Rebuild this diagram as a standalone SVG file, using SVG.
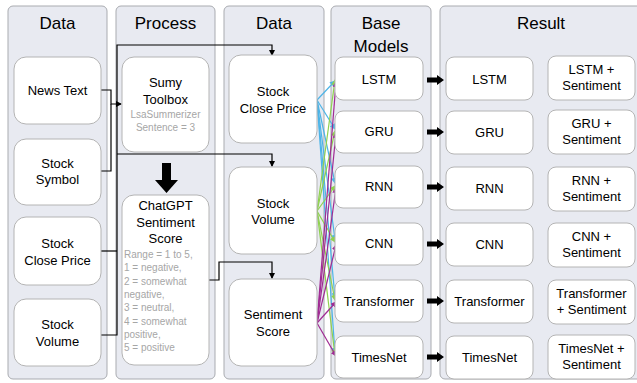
<svg xmlns="http://www.w3.org/2000/svg" width="637" height="383" viewBox="0 0 637 383">
<style>
.panel{fill:#e8eaf1;stroke:#a9abb0;stroke-width:1}
.node{fill:#ffffff;stroke:#b4b4b4;stroke-width:1}
.t{font-family:"Liberation Sans",Arial,sans-serif;font-size:13px;fill:#000;text-anchor:middle}
.title{font-family:"Liberation Sans",Arial,sans-serif;font-size:17px;fill:#000;text-anchor:middle}
.g{font-family:"Liberation Sans",Arial,sans-serif;font-size:10px;fill:#a6a6a6;text-anchor:middle}
.gl{font-family:"Liberation Sans",Arial,sans-serif;font-size:10px;fill:#a6a6a6}
.k{fill:none;stroke:#000;stroke-width:1.2}
.b{fill:none;stroke:#4cb4e7;stroke-width:1.2}
.gr{fill:none;stroke:#8fd14f;stroke-width:1.2}
.p{fill:none;stroke:#a02b93;stroke-width:1.2}
</style>
<defs>
<marker id="ak" markerWidth="6" markerHeight="6" refX="5" refY="3" orient="auto" markerUnits="userSpaceOnUse"><path d="M0,0 L6,3 L0,6 Z" fill="#000"/></marker>
<marker id="ab" markerWidth="6" markerHeight="6" refX="5" refY="3" orient="auto" markerUnits="userSpaceOnUse"><path d="M0,0 L6,3 L0,6 Z" fill="#4cb4e7"/></marker>
<marker id="ag" markerWidth="6" markerHeight="6" refX="5" refY="3" orient="auto" markerUnits="userSpaceOnUse"><path d="M0,0 L6,3 L0,6 Z" fill="#8fd14f"/></marker>
<marker id="ap" markerWidth="6" markerHeight="6" refX="5" refY="3" orient="auto" markerUnits="userSpaceOnUse"><path d="M0,0 L6,3 L0,6 Z" fill="#a02b93"/></marker>
<path id="bigR" d="M427,-2.5 H437 V-5 L444,0 L437,5 V2.5 H427 Z" fill="#000"/>
</defs>

<g id="panels">
<rect class="panel" x="8" y="6" width="99" height="373" rx="5"/>
<rect class="panel" x="116" y="6" width="99" height="373" rx="5"/>
<rect class="panel" x="224" y="6" width="100" height="373" rx="5"/>
<rect class="panel" x="331" y="6" width="100" height="373" rx="5"/>
<rect class="panel" x="440" y="6" width="205" height="373" rx="5"/>
<text class="title" x="57.5" y="29">Data</text>
<text class="title" x="165.5" y="29">Process</text>
<text class="title" x="274" y="29">Data</text>
<text class="title" x="381" y="29">Base</text>
<text class="title" x="381" y="52">Models</text>
<text class="title" x="541" y="29">Result</text>
</g>

<g id="connectors">
<path class="k" d="M101,90 H111 V104 H121" marker-end="url(#ak)"/>
<path class="k" d="M101,171 H111 V104"/>
<path class="k" d="M101,251 H117"/>
<path class="k" d="M101,335 H117 V45 H272 V55" marker-end="url(#ak)"/>
<path class="k" d="M117,154 H272 V166" marker-end="url(#ak)"/>
<path class="k" d="M209,280 H219 V262 H272 V278" marker-end="url(#ak)"/>
<path d="M162,163 H171 V180 H178 L166.5,193 L155,180 H162 Z" fill="#000"/>
<use href="#bigR" transform="translate(0,80)"/>
<use href="#bigR" transform="translate(0,132)"/>
<use href="#bigR" transform="translate(0,187)"/>
<use href="#bigR" transform="translate(0,244)"/>
<use href="#bigR" transform="translate(0,301)"/>
<use href="#bigR" transform="translate(0,357)"/>
<g id="blue">
<path class="b" d="M317,100 L335,81" marker-end="url(#ab)"/>
<path class="b" d="M317,100 L335,129" marker-end="url(#ab)"/>
<path class="b" d="M317,100 L335,183" marker-end="url(#ab)"/>
<path class="b" d="M317,100 L335,240" marker-end="url(#ab)"/>
<path class="b" d="M317,100 L335,298" marker-end="url(#ab)"/>
<path class="b" d="M317,100 L335,353" marker-end="url(#ab)"/>
</g>
<g id="green">
<path class="gr" d="M317,211 L335,80" marker-end="url(#ag)"/>
<path class="gr" d="M317,211 L335,131" marker-end="url(#ag)"/>
<path class="gr" d="M317,211 L335,186" marker-end="url(#ag)"/>
<path class="gr" d="M317,211 L335,242" marker-end="url(#ag)"/>
<path class="gr" d="M317,211 L335,300" marker-end="url(#ag)"/>
<path class="gr" d="M317,211 L335,355" marker-end="url(#ag)"/>
</g>
<g id="purple">
<path class="p" d="M317,323 L336,82" marker-end="url(#ap)"/>
<path class="p" d="M317,323 L336,133" marker-end="url(#ap)"/>
<path class="p" d="M317,323 L336,188" marker-end="url(#ap)"/>
<path class="p" d="M317,323 L336,245" marker-end="url(#ap)"/>
<path class="p" d="M317,323 L336,302" marker-end="url(#ap)"/>
<path class="p" d="M317,323 L336,356" marker-end="url(#ap)"/>
</g>
</g>

<g id="n-news"><rect class="node" x="14" y="57" width="87" height="67" rx="12"/><text class="t" x="57.5" y="94.5">News Text</text></g>
<g id="n-symbol"><rect class="node" x="14" y="139" width="87" height="66" rx="12"/><text class="t" x="57.5" y="167.5">Stock</text><text class="t" x="57.5" y="183.5">Symbol</text></g>
<g id="n-close1"><rect class="node" x="14" y="217" width="87" height="68" rx="12"/><text class="t" x="57.5" y="247.5">Stock</text><text class="t" x="57.5" y="264.5">Close Price</text></g>
<g id="n-volume1"><rect class="node" x="14" y="299" width="87" height="67" rx="12"/><text class="t" x="57.5" y="328.5">Stock</text><text class="t" x="57.5" y="345.5">Volume</text></g>

<g id="n-sumy"><rect class="node" x="122" y="57" width="87" height="95" rx="12"/>
<text class="t" x="165.5" y="86.5">Sumy</text><text class="t" x="165.5" y="103.5">Toolbox</text>
<text class="g" x="165.5" y="118">LsaSummerizer</text><text class="g" x="165.5" y="131">Sentence = 3</text></g>

<g id="n-chatgpt"><rect class="node" x="122" y="195" width="87" height="170" rx="12"/>
<text class="t" x="165.5" y="209.5">ChatGPT</text><text class="t" x="165.5" y="226.5">Sentiment</text><text class="t" x="165.5" y="242.5">Score</text>
<text class="gl" x="124" y="258">Range = 1 to 5,</text>
<text class="gl" x="124" y="271.3">1 = negative,</text>
<text class="gl" x="124" y="284.6">2 = somewhat</text>
<text class="gl" x="124" y="297.9">negative,</text>
<text class="gl" x="124" y="311.2">3 = neutral,</text>
<text class="gl" x="124" y="324.5">4 = somewhat</text>
<text class="gl" x="124" y="337.8">positive,</text>
<text class="gl" x="124" y="351.1">5 = positive</text></g>

<g id="n-close2"><rect class="node" x="229" y="55" width="88" height="88" rx="12"/><text class="t" x="273" y="95.5">Stock</text><text class="t" x="273" y="112.5">Close Price</text></g>
<g id="n-volume2"><rect class="node" x="229" y="167" width="88" height="87" rx="12"/><text class="t" x="273" y="207.5">Stock</text><text class="t" x="273" y="223.5">Volume</text></g>
<g id="n-sent"><rect class="node" x="229" y="279" width="88" height="87" rx="12"/><text class="t" x="273" y="318.5">Sentiment</text><text class="t" x="273" y="335.5">Score</text></g>

<g id="m-lstm"><rect class="node" x="335" y="57" width="88" height="43" rx="8"/><text class="t" x="379" y="83.5">LSTM</text></g>
<g id="m-gru"><rect class="node" x="335" y="111" width="88" height="42" rx="8"/><text class="t" x="379" y="136">GRU</text></g>
<g id="m-rnn"><rect class="node" x="335" y="166" width="88" height="42" rx="8"/><text class="t" x="379" y="191">RNN</text></g>
<g id="m-cnn"><rect class="node" x="335" y="223" width="88" height="42" rx="8"/><text class="t" x="379" y="248">CNN</text></g>
<g id="m-trans"><rect class="node" x="335" y="280" width="88" height="42" rx="8"/><text class="t" x="379" y="305.5">Transformer</text></g>
<g id="m-times"><rect class="node" x="335" y="336" width="88" height="42" rx="8"/><text class="t" x="379" y="361.5">TimesNet</text></g>

<g id="r-lstm"><rect class="node" x="446" y="57" width="87" height="43" rx="8"/><text class="t" x="489.5" y="83.5">LSTM</text></g>
<g id="r-gru"><rect class="node" x="446" y="111" width="87" height="43" rx="8"/><text class="t" x="489.5" y="137">GRU</text></g>
<g id="r-rnn"><rect class="node" x="446" y="167" width="87" height="43" rx="8"/><text class="t" x="489.5" y="193">RNN</text></g>
<g id="r-cnn"><rect class="node" x="446" y="223" width="87" height="43" rx="8"/><text class="t" x="489.5" y="249">CNN</text></g>
<g id="r-trans"><rect class="node" x="446" y="280" width="87" height="43" rx="8"/><text class="t" x="489.5" y="306">Transformer</text></g>
<g id="r-times"><rect class="node" x="446" y="336" width="87" height="43" rx="8"/><text class="t" x="489.5" y="362">TimesNet</text></g>

<g id="s-lstm"><rect class="node" x="548" y="56" width="87" height="44" rx="8"/><text class="t" x="591.5" y="73.5">LSTM +</text><text class="t" x="591.5" y="89.5">Sentiment</text></g>
<g id="s-gru"><rect class="node" x="548" y="110" width="87" height="44" rx="8"/><text class="t" x="591.5" y="127.5">GRU +</text><text class="t" x="591.5" y="143.5">Sentiment</text></g>
<g id="s-rnn"><rect class="node" x="548" y="167" width="87" height="44" rx="8"/><text class="t" x="591.5" y="184.5">RNN +</text><text class="t" x="591.5" y="200.5">Sentiment</text></g>
<g id="s-cnn"><rect class="node" x="548" y="223" width="87" height="44" rx="8"/><text class="t" x="591.5" y="240.5">CNN +</text><text class="t" x="591.5" y="256.5">Sentiment</text></g>
<g id="s-trans"><rect class="node" x="548" y="280" width="87" height="44" rx="8"/><text class="t" x="591.5" y="297.5">Transformer</text><text class="t" x="591.5" y="313.5">+ Sentiment</text></g>
<g id="s-times"><rect class="node" x="548" y="335" width="87" height="44" rx="8"/><text class="t" x="591.5" y="352.5">TimesNet +</text><text class="t" x="591.5" y="368.5">Sentiment</text></g>
</svg>
